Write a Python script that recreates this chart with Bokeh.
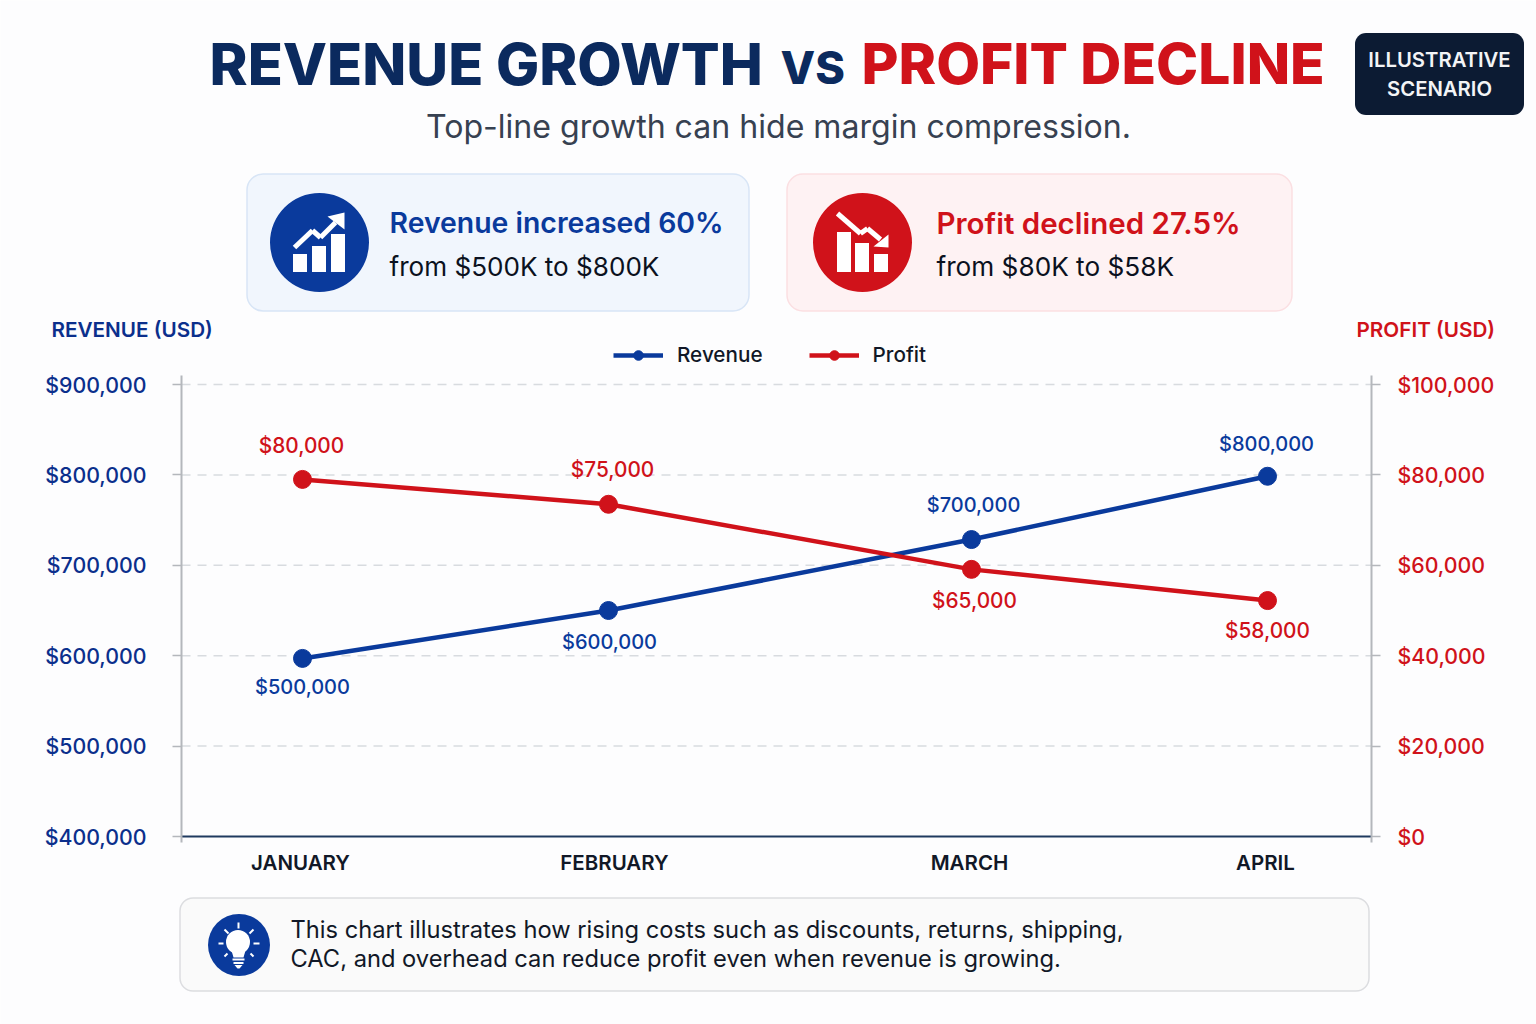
from bokeh.core.properties import value
from bokeh.embed import file_html
from bokeh.resources import INLINE
from bokeh.plotting import figure
from bokeh.models import (BoxAnnotation, ColumnDataSource, FixedTicker, Label, Legend, LegendItem,
                          LinearAxis, NumeralTickFormatter, PolyAnnotation, Range1d)

# ---- data ----
months = ["JANUARY", "FEBRUARY", "MARCH", "APRIL"]
month_x = [121, 427, 790, 1086]
month_tick_x = [119, 433, 788, 1084]
revenue_values = [597000, 650000, 728500, 798500]
profit_values = [79000, 73500, 59100, 52200]
revenue_labels = ["$500,000", "$600,000", "$700,000", "$800,000"]
profit_labels = ["$80,000", "$75,000", "$65,000", "$58,000"]
revenue_ticks = [400000, 500000, 600000, 700000, 800000, 900000]
profit_ticks = [0, 20000, 40000, 60000, 80000, 100000]

NAVY = "#0b2a5e"
BLUE = "#0a3a9c"
AXIS_BLUE = "#0b2f8c"
RED = "#d0121a"
FONT = "Inter"
MEDIUM = "Inter Medium"
SEMI = "Inter SemiBold"
BG = "#fdfdfe"
GREY = "#b4b7bc"
W, H = 1536, 1024

# the plot frame fills the whole page; the ranges place the chart area inside it
rev_per_px = 500000 / 452
pro_per_px = 100000 / 452
p = figure(width=W, height=H, output_backend="svg", toolbar_location=None,
           x_range=Range1d(-181, W - 181),
           y_range=Range1d(400000 - (H - 836) * rev_per_px, 400000 + 836 * rev_per_px),
           min_border=0, x_axis_location=None, y_axis_location=None,
           background_fill_color=BG, border_fill_color=BG, outline_line_color=None)
p.extra_y_ranges = {"profit": Range1d(-(H - 836) * pro_per_px, 836 * pro_per_px)}
p.xgrid.visible = False
p.ygrid.visible = False

# dashed gridlines between the two vertical axes
grid_ticks = revenue_ticks[1:]
p.segment(x0=[0] * len(grid_ticks), x1=[1190] * len(grid_ticks), y0=grid_ticks, y1=grid_ticks,
          line_color="#d8dbdf", line_width=1.5, line_dash="9 7")


def style_y(ax, color):
    ax.axis_line_color = GREY
    ax.axis_line_width = 2
    ax.major_tick_line_color = GREY
    ax.major_tick_line_width = 1.5
    ax.major_tick_in = 0
    ax.major_tick_out = 9
    ax.minor_tick_line_color = None
    ax.major_label_text_color = color
    ax.major_label_text_font = MEDIUM
    ax.major_label_text_font_size = "21.3px"
    ax.major_label_standoff = 26
    ax.formatter = NumeralTickFormatter(format="$0,0")


left = LinearAxis(ticker=FixedTicker(ticks=revenue_ticks), fixed_location=0, bounds=(400000, 910000))
style_y(left, AXIS_BLUE)
p.add_layout(left, "left")
right = LinearAxis(y_range_name="profit", ticker=FixedTicker(ticks=profit_ticks), fixed_location=1190,
                   bounds=(0, 102000))
style_y(right, RED)
right.major_label_standoff = 17
p.add_layout(right, "right")

xax = LinearAxis(ticker=FixedTicker(ticks=month_tick_x, minor_ticks=[0, 1190]), fixed_location=400000,
                 bounds=(0, 1190))
xax.major_label_overrides = dict(zip(month_tick_x, months))
xax.axis_line_color = "#1f3a5f"
xax.axis_line_width = 2
xax.major_tick_line_color = None
xax.minor_tick_line_color = GREY
xax.minor_tick_line_width = 2
xax.minor_tick_in = 0
xax.minor_tick_out = 6
xax.major_label_text_color = "#111827"
xax.major_label_text_font = SEMI
xax.major_label_text_font_size = "20.5px"
xax.major_label_standoff = 7
p.add_layout(xax, "below")

rev_src = ColumnDataSource(dict(x=month_x, y=revenue_values, t=revenue_labels,
                                dy=[29, 31, -35, -32], dx=[0, 1, 2, -1]))
pro_src = ColumnDataSource(dict(x=month_x, y=profit_values, t=profit_labels,
                                dy=[-34, -35, 31, 30], dx=[-1, 4, 3, 0]))
r1 = p.line("x", "y", source=rev_src, line_color=BLUE, line_width=4.5)
r2 = p.scatter("x", "y", source=rev_src, size=18, color=BLUE)
p1 = p.line("x", "y", source=pro_src, line_color=RED, line_width=4.5, y_range_name="profit")
p2 = p.scatter("x", "y", source=pro_src, size=18, color=RED, y_range_name="profit")
for src, col, rng, fs in ((rev_src, BLUE, "default", "20px"), (pro_src, RED, "profit", "20.8px")):
    p.text("x", "y", text="t", source=src, x_offset="dx", y_offset="dy", text_color=col,
           text_font=value(MEDIUM), text_font_size=fs, text_align="center", text_baseline="middle",
           y_range_name=rng)

legend = Legend(items=[LegendItem(label="Revenue", renderers=[r1, r2]),
                       LegendItem(label="Profit", renderers=[p1, p2])],
                orientation="horizontal", location=(613, H - 367), background_fill_alpha=0,
                border_line_color=None, padding=0, margin=0, spacing=46, glyph_width=50, glyph_height=24,
                label_standoff=14, label_text_font=MEDIUM, label_text_font_size="20.7px",
                label_text_color="#111827")
p.add_layout(legend, "center")


# ---- decoration in page pixels (screen units measure up from the frame's bottom) ----
def box(x0, y0, x1, y1, fill, line=None, radius=0, lw=1.5):
    p.add_layout(BoxAnnotation(left=x0 - 0.5, right=x1 - 0.5, top=H - y0 + 0.5, bottom=H - y1 + 0.5,
                               left_units="screen", right_units="screen",
                               top_units="screen", bottom_units="screen",
                               fill_color=fill, fill_alpha=1, line_color=line, line_width=lw,
                               line_alpha=1 if line else 0, border_radius=radius, level="overlay"))


def poly(pts, fill="white"):
    p.add_layout(PolyAnnotation(xs=[a for a, _ in pts], ys=[H - b for _, b in pts],
                                xs_units="screen", ys_units="screen", fill_color=fill, fill_alpha=1,
                                line_color=None, level="overlay"))


def stroke(a, b, w, fill="white"):
    (x0, y0), (x1, y1) = a, b
    dx, dy = x1 - x0, y1 - y0
    n = (dx * dx + dy * dy) ** 0.5
    ox, oy = -dy / n * w / 2, dx / n * w / 2
    poly([(x0 + ox, y0 + oy), (x1 + ox, y1 + oy), (x1 - ox, y1 - oy), (x0 - ox, y0 - oy)], fill)


def txt(x, y, s, size, color, font=FONT, align="left"):
    p.add_layout(Label(x=x - 1, y=H - y + 1, x_units="screen", y_units="screen", text=s,
                       text_font=font, text_font_size=f"{size}px", text_color=color,
                       text_align=align, text_baseline="middle", level="overlay"))


# header
txt(210, 64, "REVENUE GROWTH", 57.6, NAVY, "Inter ExtraBold")
txt(781, 68, "VS", 45, NAVY, "Inter ExtraBold")
txt(862, 64, "PROFIT DECLINE", 56.8, RED, "Inter ExtraBold")
txt(779, 127, "Top-line growth can hide margin compression.", 32.1, "#374151", align="center")
box(1355, 33, 1524, 115, "#0c1b33", radius=11)
txt(1440, 60, "ILLUSTRATIVE", 20.3, "#f3f4f6", SEMI, align="center")
txt(1440, 89, "SCENARIO", 20.3, "#f3f4f6", SEMI, align="center")

# revenue card
box(247, 174, 749, 311, "#f1f6fd", "#d8e5f6", 16)
box(270, 193, 369, 292, BLUE, radius=50)
box(293, 254, 307, 272, "white")
box(312, 246, 326, 272, "white")
box(331, 234, 345, 272, "white")
pts = [(294, 247), (312, 230), (320, 237), (335, 222)]
for a, b in zip(pts, pts[1:]):
    stroke(a, b, 5)
poly([(344, 212), (327, 216), (344, 229)])
txt(390, 223, "Revenue increased 60%", 28.4, BLUE, SEMI)
txt(390, 267, "from $500K to $800K", 26.1, "#0b1120")

# profit card
box(787, 174, 1292, 311, "#fef2f3", "#fbdfe2", 16)
box(813, 193, 912, 292, RED, radius=50)
box(837, 232, 851, 272, "white")
box(855, 243, 869, 272, "white")
box(874, 254, 888, 272, "white")
pts = [(837, 213), (860, 233), (867, 228), (880, 239)]
for a, b in zip(pts, pts[1:]):
    stroke(a, b, 5)
poly([(888, 234), (888, 247), (873, 246)])
txt(937, 223, "Profit declined 27.5%", 29.5, RED, SEMI)
txt(937, 267, "from $80K to $58K", 26.2, "#0b1120")

# axis titles
txt(52, 330, "REVENUE (USD)", 20.7, AXIS_BLUE, SEMI)
txt(1357, 330, "PROFIT (USD)", 20.7, RED, SEMI)

# note
box(180, 898, 1369, 991, "#fafafa", "#dcdde0", 13)
box(208, 914, 270, 976, BLUE, radius=31)
box(226, 930, 250, 954, "white", radius=12)
poly([(231, 950), (245, 950), (243, 957), (233, 957)])
stroke((232, 959), (244, 959), 2)
stroke((233, 962.5), (243, 962.5), 2)
poly([(234, 964.5), (242, 964.5), (239, 968), (237, 968)])
for a, b in [((238, 922), (238, 928)), ((218, 943), (223, 943)), ((253, 943), (259, 943)),
             ((224, 929), (228, 933)), ((253, 929), (249, 933)), ((224, 956), (227, 953)),
             ((253, 956), (250, 953))]:
    stroke(a, b, 2)
txt(291, 930, "This chart illustrates how rising costs such as discounts, returns, shipping,", 23.7, "#111827")
txt(291, 959, "CAC, and overhead can reduce profit even when revenue is growing.", 23.7, "#111827")

open("out.html", "w").write(file_html(p, INLINE))
